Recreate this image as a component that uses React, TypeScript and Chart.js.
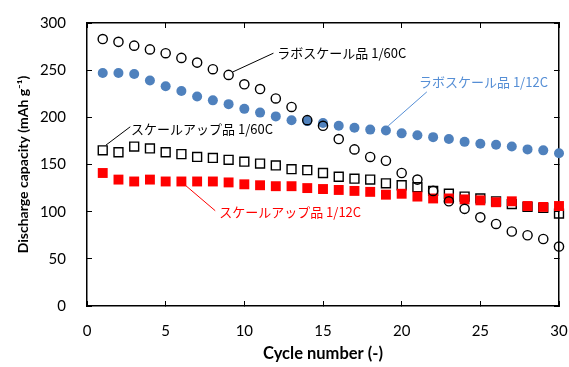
import React, { useEffect, useRef } from "react";
import { Chart, registerables } from "chart.js";

Chart.register(...registerables);

const cycles = [1, 2, 3, 4, 5, 6, 7, 8, 9, 10, 11, 12, 13, 14, 15, 16, 17, 18, 19, 20, 21, 22, 23, 24, 25, 26, 27, 28, 29, 30];
const labScale60C = [283, 280, 276, 272, 268, 263, 258, 251, 245, 235, 230, 220, 211, 197, 191, 177, 166, 158, 154, 141, 134, 122, 111, 103, 94, 87, 79, 75, 71, 63];
const labScale12C = [247, 247, 246, 239, 233, 228, 222, 218, 214, 209, 205, 201, 197, 196, 194, 191, 189, 187, 186, 183, 181, 179, 177, 174, 172, 171, 169, 166, 165, 162];
const scaleUp60C = [165, 163, 169, 167, 163, 161, 158, 157, 155, 153, 151, 149, 145, 144, 141, 137, 135, 134, 130, 128, 126, 122, 119, 116, 114, 111, 108, 105, 104, 98];
const scaleUp12C = [141, 134, 132, 134, 132, 132, 132, 132, 131, 129, 128, 127, 127, 125, 124, 123, 122, 121, 118, 119, 116, 114, 114, 113, 112, 110, 111, 106, 105, 106];

const seriesNames = ["ラボスケール品 1/60C", "ラボスケール品 1/12C", "スケールアップ品 1/60C", "スケールアップ品 1/12C"];
const xTitle = "Cycle number (-)";
const yTitle = "Discharge capacity (mAh g⁻¹)";

const BLUE = "#4F81BD";
const BLUE_TEXT = "#558ED5";
const RED = "#FF0000";

// annotation labels: text anchor (data units) and leader line (data units)
const labelAnchors = [
  { text: seriesNames[0], color: "#000000", x: 12.1, y: 268.5, line: [9.25, 248, 11.85, 268] },
  { text: seriesNames[1], color: BLUE_TEXT, x: 21.1, y: 237.8, line: [19.15, 191, 21.6, 227] },
  { text: seriesNames[2], color: "#000000", x: 2.8, y: 187.3, line: [1.2, 170.5, 2.75, 190] },
  { text: seriesNames[3], color: RED, x: 8.4, y: 100, line: [6.25, 128, 8.15, 101] },
];

const toXY = (ys: number[]) => cycles.map((c, i) => ({ x: c, y: ys[i] }));

const labelPlugin = {
  id: "seriesLabels",
  afterDraw(chart: any) {
    const ctx = chart.ctx;
    const xs = chart.scales.x;
    const ys = chart.scales.y;
    ctx.save();
    labelAnchors.forEach((l) => {
      ctx.strokeStyle = l.color;
      ctx.lineWidth = 1;
      ctx.beginPath();
      ctx.moveTo(xs.getPixelForValue(l.line[0]), ys.getPixelForValue(l.line[1]));
      ctx.lineTo(xs.getPixelForValue(l.line[2]), ys.getPixelForValue(l.line[3]));
      ctx.stroke();
      ctx.fillStyle = l.color;
      ctx.font = '13px "Noto Sans CJK JP", sans-serif';
      ctx.textAlign = "left";
      ctx.textBaseline = "middle";
      ctx.fillText(l.text, xs.getPixelForValue(l.x), ys.getPixelForValue(l.y));
    });
    ctx.restore();
  },
};

const frameGrid = {
  display: true,
  drawOnChartArea: false,
  drawTicks: true,
  tickLength: -5,
  color: "#000000",
  lineWidth: 1,
};
const frameBorder = { display: true, color: "#000000", width: 1.5 };

export default function App() {
  const canvasRef = useRef<HTMLCanvasElement | null>(null);

  useEffect(() => {
    if (!canvasRef.current) return;
    const chart = new Chart(canvasRef.current, {
      type: "scatter",
      data: {
        datasets: [
          {
            label: seriesNames[0],
            data: toXY(labScale60C),
            pointStyle: "circle",
            pointRadius: 4.6,
            pointBorderWidth: 1.4,
            borderColor: "#000",
            backgroundColor: "rgba(0,0,0,0)",
            order: 0,
            clip: false,
          },
          {
            label: seriesNames[3],
            data: toXY(scaleUp12C),
            pointStyle: "rect",
            pointRadius: 7,
            pointBorderWidth: 0,
            borderColor: RED,
            backgroundColor: RED,
            order: 1,
            clip: false,
          },
          {
            label: seriesNames[2],
            data: toXY(scaleUp60C),
            pointStyle: "rect",
            pointRadius: 6.3,
            pointBorderWidth: 1.4,
            borderColor: "#000",
            backgroundColor: "rgba(0,0,0,0)",
            order: 2,
            clip: false,
          },
          {
            label: seriesNames[1],
            data: toXY(labScale12C),
            pointStyle: "circle",
            pointRadius: 5,
            pointBorderWidth: 0,
            borderColor: BLUE,
            backgroundColor: BLUE,
            order: 3,
            clip: false,
          },
        ],
      },
      options: {
        animation: false,
        responsive: false,
        maintainAspectRatio: false,
        events: [],
        layout: { padding: { left: 0, right: 10, top: 23, bottom: 0 } },
        plugins: {
          legend: { display: false },
          tooltip: { enabled: false },
        },
        scales: {
          x: {
            type: "linear",
            position: "bottom",
            min: 0,
            max: 30,
            grid: frameGrid,
            border: frameBorder,
            ticks: {
              stepSize: 5,
              color: "#000",
              padding: 21,
              maxRotation: 0,
              font: { family: "Lato", size: 15 },
            },
            title: {
              display: true,
              text: xTitle,
              color: "#000",
              font: { family: "Lato", size: 16.5, weight: "bold" },
              padding: { top: 0, bottom: 3 },
            },
            afterFit: (s: any) => {
              s.height = 61;
              s.paddingLeft = 0;
              s.paddingRight = 0;
            },
          },
          x2: {
            type: "linear",
            position: "top",
            min: 0,
            max: 30,
            grid: frameGrid,
            border: frameBorder,
            ticks: { stepSize: 5, display: false },
            afterFit: (s: any) => {
              s.height = 0;
              s.paddingLeft = 0;
              s.paddingRight = 0;
            },
          },
          y: {
            type: "linear",
            position: "left",
            min: 0,
            max: 300,
            grid: frameGrid,
            border: frameBorder,
            ticks: {
              stepSize: 50,
              color: "#000",
              padding: 26,
              font: { family: "Lato", size: 15 },
            },
            title: {
              display: true,
              text: yTitle,
              color: "#000",
              font: { family: "Lato", size: 14, weight: "bold" },
              padding: { top: 15, bottom: 0 },
            },
            afterFit: (s: any) => {
              s.width = 87;
              s.paddingTop = 0;
              s.paddingBottom = 0;
            },
          },
          y2: {
            type: "linear",
            position: "right",
            min: 0,
            max: 300,
            grid: frameGrid,
            border: frameBorder,
            ticks: { stepSize: 50, display: false },
            afterFit: (s: any) => {
              s.width = 0;
              s.paddingTop = 0;
              s.paddingBottom = 0;
            },
          },
        },
      },
      plugins: [labelPlugin],
    });
    return () => chart.destroy();
  }, []);

  return (
    <div style={{ position: "absolute", left: 0, top: 0, width: 569, height: 367, background: "#fff" }}>
      <canvas ref={canvasRef} width={569} height={367} style={{ width: 569, height: 367, display: "block" }} />
    </div>
  );
}
